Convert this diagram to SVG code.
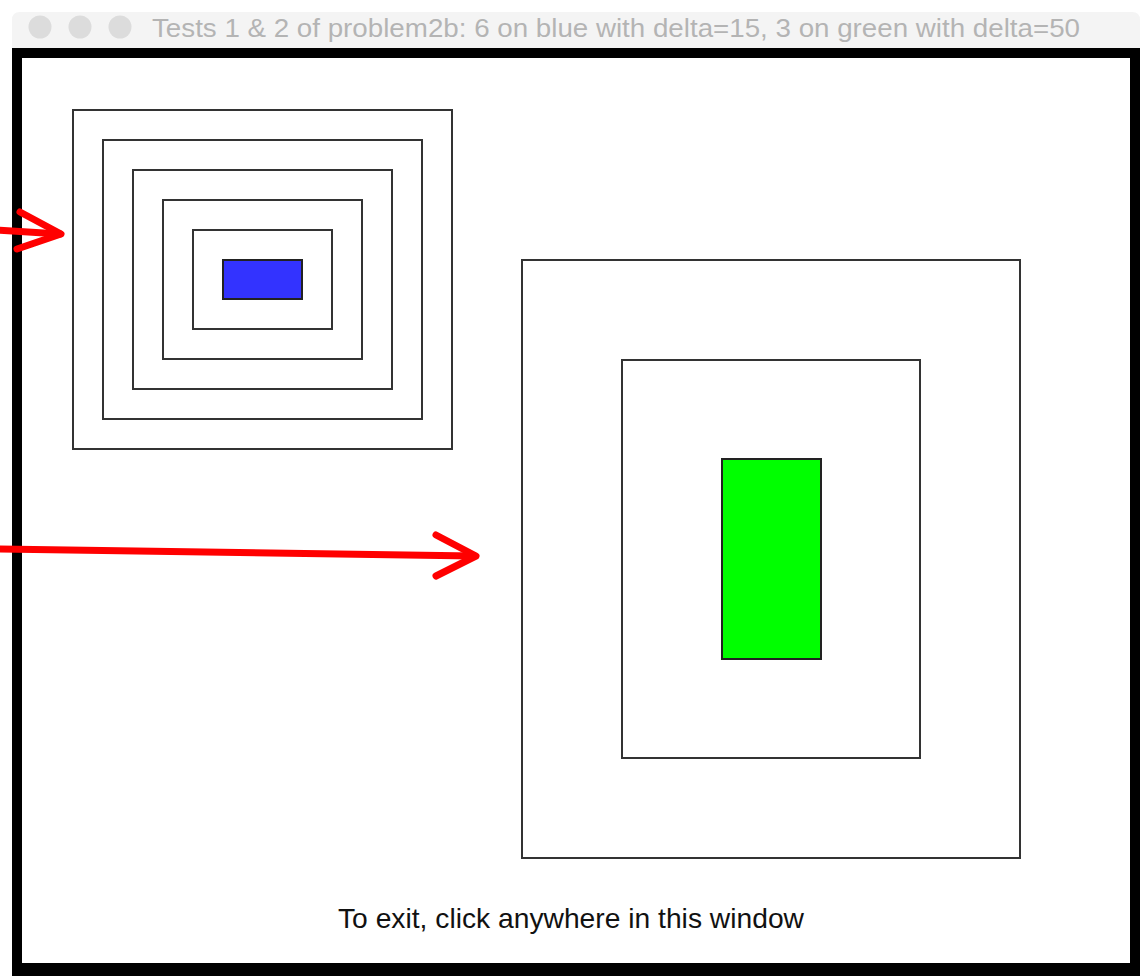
<svg xmlns="http://www.w3.org/2000/svg" width="1143" height="976" viewBox="0 0 1143 976">
<style>
.box{fill:none;stroke:#333;stroke-width:2}
.arrow{fill:none;stroke:#ff0000;stroke-width:7;stroke-linecap:round;stroke-linejoin:round}
.title{font-family:"Liberation Sans",Arial,sans-serif;font-size:25px;fill:#b4b4b4}
.msg{font-family:"Liberation Sans",Arial,sans-serif;font-size:28px;fill:#111}
</style>
<rect width="1143" height="976" fill="#fff"/>
<g id="window">
<path d="M12,48 L12,20 Q12,12 20,12 L1132,12 Q1140,12 1140,20 L1140,48 Z" fill="#f4f4f4"/>
<circle cx="40" cy="27" r="11.5" fill="#dcdcdc"/>
<circle cx="80" cy="27" r="11.5" fill="#dcdcdc"/>
<circle cx="120" cy="27" r="11.5" fill="#dcdcdc"/>
<text class="title" x="152" y="37" textLength="928" lengthAdjust="spacingAndGlyphs">Tests 1 &amp; 2 of problem2b: 6 on blue with delta=15, 3 on green with delta=50</text>
<rect x="12" y="48" width="1128" height="928" fill="#000"/>
<rect x="22" y="58" width="1108" height="905" fill="#fff"/>
</g>
<g id="blue-nest">
<rect class="box" x="73" y="110" width="379" height="339"/>
<rect class="box" x="103" y="140" width="319" height="279"/>
<rect class="box" x="133" y="170" width="259" height="219"/>
<rect class="box" x="163" y="200" width="199" height="159"/>
<rect class="box" x="193" y="230" width="139" height="99"/>
<rect x="223" y="260" width="79" height="39" fill="#3333ff" stroke="#222" stroke-width="2"/>
</g>
<g id="green-nest">
<rect class="box" x="522" y="260" width="498" height="598"/>
<rect class="box" x="622" y="360" width="298" height="398"/>
<rect x="722" y="459" width="99" height="200" fill="#00ff00" stroke="#222" stroke-width="2"/>
</g>
<g id="connectors">
<path class="arrow" d="M-5,230 L60,234"/>
<path class="arrow" d="M20,212 L61,234 L17,249"/>
<path class="arrow" d="M-5,549 L474,556"/>
<path class="arrow" d="M436,535 L476,556 L436,576"/>
</g>
<text class="msg" x="338" y="928" textLength="466" lengthAdjust="spacingAndGlyphs">To exit, click anywhere in this window</text>
</svg>
